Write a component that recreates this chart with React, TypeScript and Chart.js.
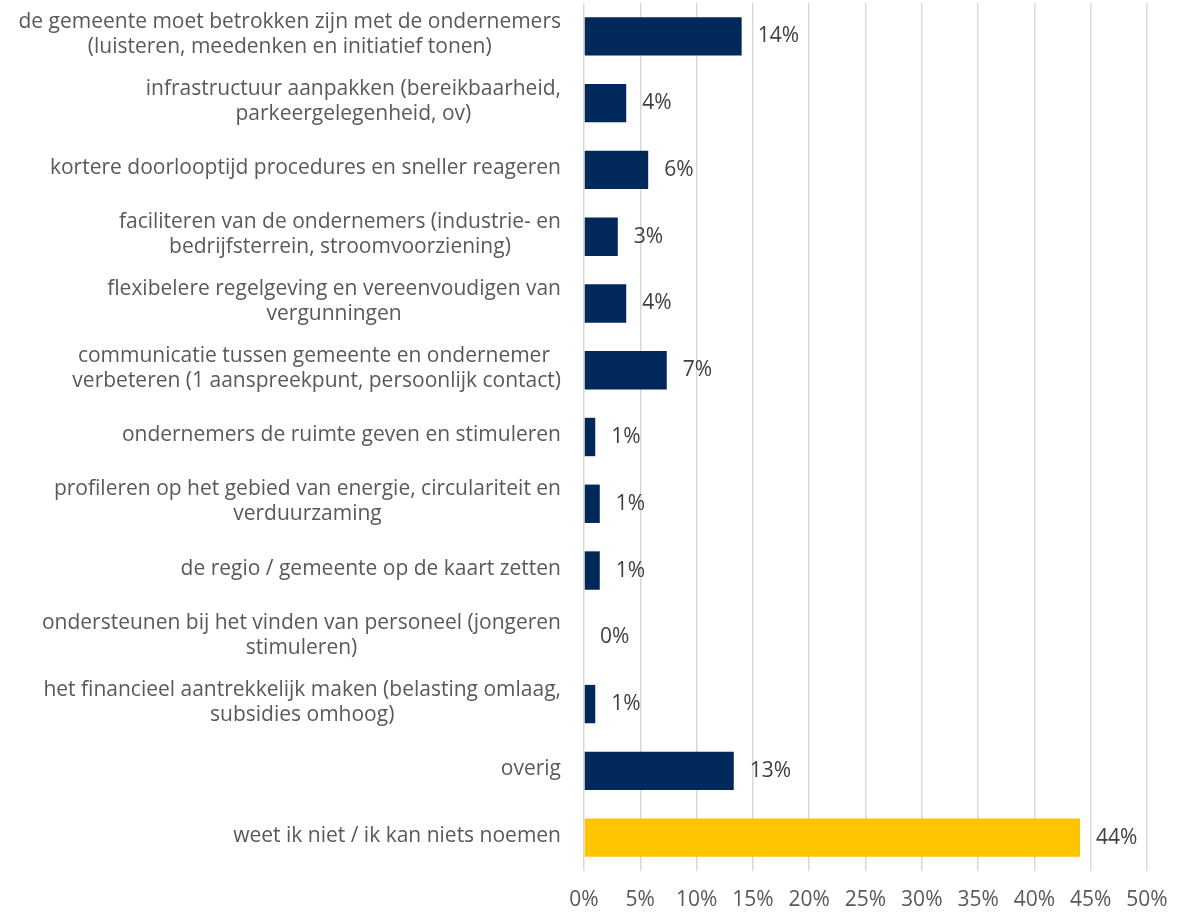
import React, { useEffect, useRef } from "react";
import { Chart, registerables } from "chart.js";

Chart.register(...registerables);

const categories: string[][] = [
  ["de gemeente moet betrokken zijn met de ondernemers", "(luisteren, meedenken en initiatief tonen)"],
  ["infrastructuur aanpakken (bereikbaarheid,", "parkeergelegenheid, ov)"],
  ["kortere doorlooptijd procedures en sneller reageren"],
  ["faciliteren van de ondernemers (industrie- en", "bedrijfsterrein, stroomvoorziening)"],
  ["flexibelere regelgeving en vereenvoudigen van", "vergunningen"],
  ["communicatie tussen gemeente en ondernemer ", "verbeteren (1 aanspreekpunt, persoonlijk contact)"],
  ["ondernemers de ruimte geven en stimuleren"],
  ["profileren op het gebied van energie, circulariteit en", "verduurzaming"],
  ["de regio / gemeente op de kaart zetten"],
  ["ondersteunen bij het vinden van personeel (jongeren", "stimuleren)"],
  ["het financieel aantrekkelijk maken (belasting omlaag,", "subsidies omhoog)"],
  ["overig"],
  ["weet ik niet / ik kan niets noemen"],
];

const values: number[] = [14.0, 3.75, 5.7, 3.0, 3.75, 7.35, 1.0, 1.4, 1.4, 0, 1.0, 13.3, 44.05];

const barColors: string[] = [
  "#00285A", "#00285A", "#00285A", "#00285A", "#00285A", "#00285A", "#00285A",
  "#00285A", "#00285A", "#00285A", "#00285A", "#00285A", "#FCC500",
];

const FONT = "'Open Sans'";
const FONT_SIZE = 21;
const LINE_H = 25;

const yLabelPlugin = {
  id: "yLabels",
  afterDraw(chart: any) {
    const ctx = chart.ctx;
    const yScale = chart.scales.y;
    const right = chart.chartArea.left - 23;
    ctx.save();
    ctx.font = `${FONT_SIZE}px ${FONT}`;
    ctx.fillStyle = "#595959";
    ctx.textAlign = "center";
    ctx.textBaseline = "middle";
    categories.forEach((lines, i) => {
      const cy = yScale.getPixelForValue(i) - 2;
      const w = Math.max(...lines.map((l) => ctx.measureText(l).width));
      const cx = right - w / 2;
      const startY = cy - ((lines.length - 1) * LINE_H) / 2;
      lines.forEach((l, j) => ctx.fillText(l, cx, startY + j * LINE_H));
    });
    ctx.restore();
  },
};

const dataLabelPlugin = {
  id: "dataLabels",
  afterDatasetsDraw(chart: any) {
    const ctx = chart.ctx;
    const meta = chart.getDatasetMeta(0);
    ctx.save();
    ctx.font = `${FONT_SIZE}px ${FONT}`;
    ctx.fillStyle = "#404040";
    ctx.textAlign = "left";
    ctx.textBaseline = "middle";
    meta.data.forEach((bar: any, i: number) => {
      ctx.fillText(Math.round(values[i]) + "%", bar.x + 16, bar.y);
    });
    ctx.restore();
  },
};

export default function App() {
  const ref = useRef<HTMLCanvasElement>(null);
  useEffect(() => {
    if (!ref.current) return;
    const chart = new Chart(ref.current, {
      type: "bar",
      data: {
        labels: categories.map((c) => c.join(" ")),
        datasets: [
          {
            data: values,
            backgroundColor: barColors,
            barPercentage: 0.575,
            categoryPercentage: 1,
          },
        ],
      },
      options: {
        indexAxis: "y",
        responsive: false,
        animation: false,
        layout: { padding: { top: 3, right: 44, left: 0, bottom: 0 } },
        plugins: { legend: { display: false }, tooltip: { enabled: false } },
        scales: {
          x: {
            min: 0,
            max: 50,
            ticks: {
              stepSize: 5,
              callback: (v: any) => v + "%",
              font: { family: FONT, size: FONT_SIZE },
              color: "#595959",
              padding: 16,
              maxRotation: 0,
            },
            grid: { color: "#D9D9D9", lineWidth: 1.5, drawTicks: false },
            border: { display: false },
            afterFit: (s: any) => {
              s.height = 42;
            },
          },
          y: {
            ticks: { display: false },
            grid: { display: false },
            border: { display: false },
            afterFit: (s: any) => {
              s.width = 584;
            },
          },
        },
      },
      plugins: [yLabelPlugin, dataLabelPlugin],
    } as any);
    return () => chart.destroy();
  }, []);
  return (
    <div style={{ position: "absolute", left: 0, top: 0, width: 1191, height: 913, background: "#fff" }}>
      <canvas ref={ref} width={1191} height={913} style={{ display: "block" }} />
    </div>
  );
}
